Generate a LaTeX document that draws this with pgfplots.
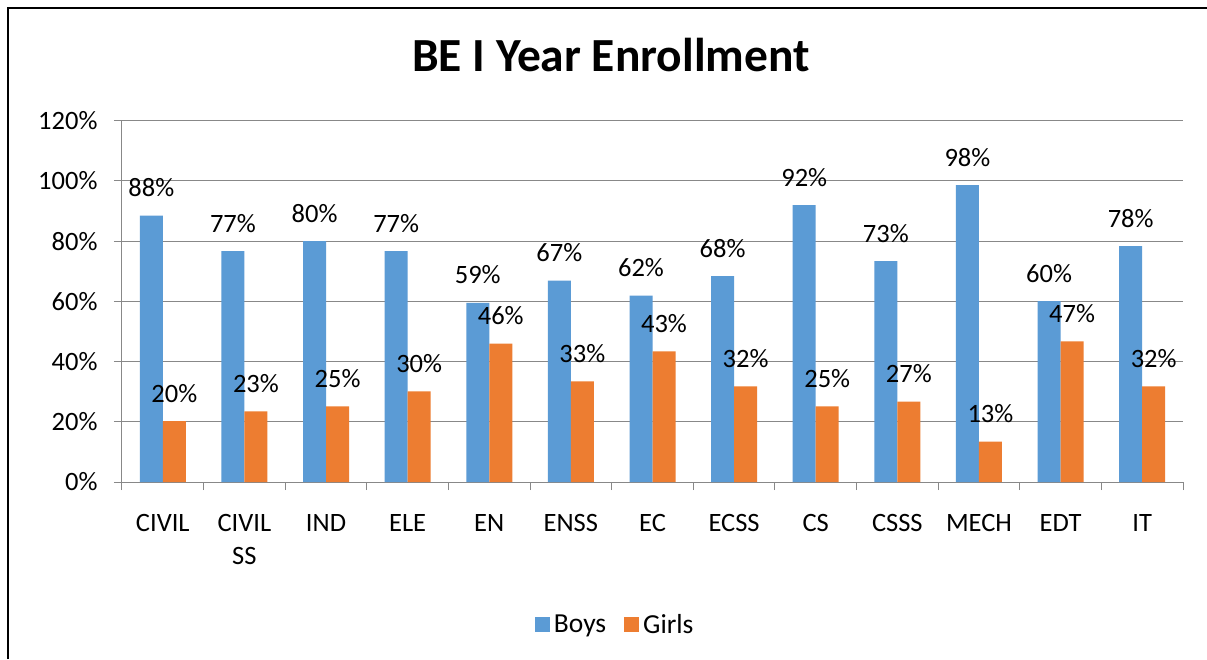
\documentclass[border=0pt]{standalone}
\usepackage{pgfplots}
\usepackage{pgfplotstable}
\pgfplotsset{compat=1.18}
\usepackage{fontspec}
\setmainfont{Carlito}
\definecolor{boys}{HTML}{5B9BD5}
\definecolor{girls}{HTML}{ED7D31}
\definecolor{gridc}{HTML}{888888}
\pgfplotstableread{
x y lab
0 88.5 88
1 76.7 77
2 80.0 80
3 76.7 77
4 59.5 59
5 66.9 67
6 61.9 62
7 68.4 68
8 92.0 92
9 73.4 73
10 98.6 98
11 60.1 60
12 78.4 78
}\boys
\pgfplotstableread{
x y lab
0 20.2 20
1 23.5 23
2 25.1 25
3 30.1 30
4 46.0 46
5 33.4 33
6 43.4 43
7 31.8 32
8 25.1 25
9 26.7 27
10 13.4 13
11 46.7 47
12 31.8 32
}\girls
\begin{document}
\begin{tikzpicture}[x=1pt,y=1pt]
\useasboundingbox (0,0) rectangle (1207,659);
\fill[white] (0,0) rectangle (1207,659);
\draw[line width=2pt] (8,0) -- (8,651) -- (1207,651);
\node[anchor=base, font=\bfseries\fontsize{47.5}{52}\selectfont] at (611,587.3) {BE I Year Enrollment};
\begin{axis}[
  at={(122pt,177pt)}, anchor=south west,
  scale only axis, width=1061pt, height=361.2pt,
  xmin=-0.5, xmax=12.5, ymin=0, ymax=120,
  ybar=0pt, bar width=23pt,
  axis lines=left, axis line style={-, draw=gridc, line width=1pt},
  ymajorgrids, grid style={draw=gridc, line width=1pt},
  ytick={0,20,...,120},
  yticklabels={0\%,20\%,40\%,60\%,80\%,100\%,120\%},
  tick align=outside, major tick length=8pt,
  tick style={draw=gridc, line width=1pt},
  xtick={-0.5,0.5,...,12.5}, xticklabels={},
  extra x ticks={0,1,...,12},
  extra x tick labels={CIVIL,{CIVIL\\SS},IND,ELE,EN,ENSS,EC,ECSS,CS,CSSS,MECH,EDT,IT},
  extra x tick style={major tick length=0pt, grid=none},
  xticklabel style={align=center, font=\fontsize{26.5}{33}\selectfont, anchor=north, yshift=-29pt},
  yticklabel style={font=\fontsize{26.5}{30}\selectfont, xshift=-13pt},
  point meta=explicit symbolic,
  nodes near coords={\pgfplotspointmeta\%},
  nodes near coords style={font=\fontsize{26.5}{30}\selectfont, anchor=base, yshift=19pt, text=black},
  clip=false,
  legend columns=2,
  legend style={at={(0.389,-0.395)}, anchor=west, draw=none, fill=none, inner sep=0pt,
    font=\fontsize{27.5}{30}\selectfont, nodes={inner sep=4pt},
    /tikz/every even column/.append style={column sep=14pt}},
  legend image code/.code={\fill[#1] (0pt,-7.5pt) rectangle (15pt,7.5pt);},
]
\addplot[fill=boys, draw=none] table[x=x, y=y, meta=lab] {\boys};
\addplot[fill=girls, draw=none] table[x=x, y=y, meta=lab] {\girls};
\legend{Boys,Girls}
\end{axis}
\end{tikzpicture}
\end{document}
